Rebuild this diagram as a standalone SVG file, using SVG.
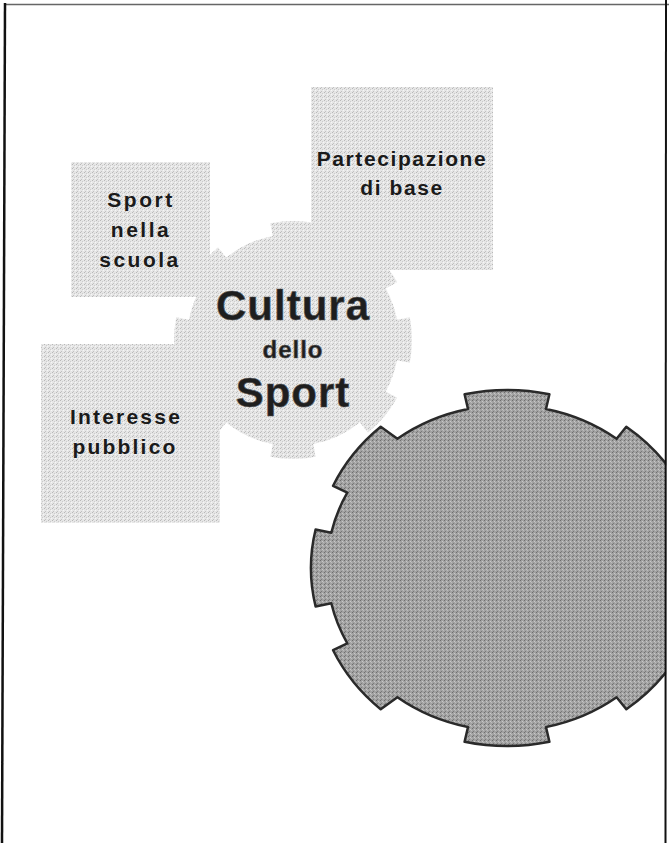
<svg xmlns="http://www.w3.org/2000/svg" width="669" height="843" viewBox="0 0 669 843">
<defs>
<pattern id="tex" width="4" height="4" patternUnits="userSpaceOnUse">
<rect width="4" height="4" fill="#e6e6e6"/>
<rect x="0" y="0" width="1" height="1" fill="#b8b8b8"/>
<rect x="2" y="1" width="1" height="1" fill="#cccccc"/>
<rect x="1" y="3" width="1" height="1" fill="#c2c2c2"/>
<rect x="3" y="2" width="1" height="1" fill="#f6f6f6"/>
</pattern>
<pattern id="texDark" width="4" height="4" patternUnits="userSpaceOnUse">
<rect width="4" height="4" fill="#a2a2a2"/>
<rect x="0" y="0" width="1" height="1" fill="#6e6e6e"/>
<rect x="2" y="1" width="1" height="1" fill="#c8c8c8"/>
<rect x="1" y="3" width="1" height="1" fill="#7a7a7a"/>
<rect x="3" y="2" width="1" height="1" fill="#bcbcbc"/>
</pattern>
<clipPath id="frameClip"><rect x="0" y="0" width="665" height="843"/></clipPath>
<style>
.box{fill:url(#tex);}
.lbl{font-family:"Liberation Sans",Arial,sans-serif;font-size:21px;font-weight:bold;fill:#1a1a1a;text-anchor:middle;}
.big{font-family:"Liberation Sans",Arial,sans-serif;font-weight:bold;fill:#1e1e1e;text-anchor:middle;stroke:#555;stroke-width:0.6;}
</style>
</defs>
<rect width="669" height="843" fill="#ffffff"/>

<g id="box-sport-scuola">
<rect class="box" x="71" y="162" width="139" height="135"/>
</g>
<g id="box-partecipazione">
<rect class="box" x="311" y="87" width="182" height="183"/>
</g>
<g id="box-interesse">
<rect class="box" x="41" y="344" width="179" height="179"/>
</g>

<g id="gear-cultura">
<path class="box" d="M397,360.2 L409.8,362.7 A119 119 0 0 0 409.8,317.3 L397,319.8 A106 106 0 0 0 385.7,288.6 L397.1,282.3 A119 119 0 0 0 367.9,247.5 L359.7,257.6 A106 106 0 0 0 313.2,235.9 L315.7,223.2 A119 119 0 0 0 270.3,223.2 L272.8,235.9 A106 106 0 0 0 226.3,257.6 L218.1,247.5 A119 119 0 0 0 188.9,282.3 L200.3,288.6 A106 106 0 0 0 189,319.8 L176.2,317.3 A119 119 0 0 0 176.2,362.7 L189,360.2 A106 106 0 0 0 200.3,391.4 L188.9,397.7 A119 119 0 0 0 218.1,432.5 L226.3,422.4 A106 106 0 0 0 272.8,444.1 L270.3,456.8 A119 119 0 0 0 315.7,456.8 L313.2,444.1 A106 106 0 0 0 359.7,422.4 L367.9,432.5 A119 119 0 0 0 397.1,397.7 L385.7,391.4 A106 106 0 0 0 397,360.2 Z"/>
</g>

<g id="labels-boxes">
<text class="lbl" x="141" y="207" letter-spacing="2.5">Sport</text>
<text class="lbl" x="141" y="237" letter-spacing="2.5">nella</text>
<text class="lbl" x="140" y="267" letter-spacing="2.5">scuola</text>
<text class="lbl" x="402" y="166" letter-spacing="1.6">Partecipazione</text>
<text class="lbl" x="402" y="195" letter-spacing="1.6">di base</text>
<text class="lbl" x="126" y="424" letter-spacing="2.2">Interesse</text>
<text class="lbl" x="125" y="454" letter-spacing="2.2">pubblico</text>
</g>

<g id="labels-center">
<text class="big" x="293" y="320" font-size="42" letter-spacing="1">Cultura</text>
<text class="big" x="293" y="358" font-size="24" letter-spacing="1" stroke-width="0.3">dello</text>
<text class="big" x="293" y="407" font-size="42" letter-spacing="1">Sport</text>
</g>

<g id="gear-dark" clip-path="url(#frameClip)">
<path fill="url(#texDark)" stroke="#2a2a2a" stroke-width="2.5" stroke-linejoin="round" d="M682.7,603.3 L698.4,606.5 A196 178 0 0 0 698.4,529.5 L682.7,532.7 A180 163 0 0 0 666.7,492.7 L680.9,485.8 A196 178 0 0 0 626.3,426.8 L616.6,438.7 A180 163 0 0 0 546,408.9 L549.4,394.2 A196 178 0 0 0 464.6,394.2 L468,408.9 A180 163 0 0 0 397.4,438.7 L380.7,426.8 A196 178 0 0 0 333.1,485.8 L347.3,492.7 A180 163 0 0 0 331.3,532.7 L315.6,529.5 A196 178 0 0 0 315.6,606.5 L331.3,603.3 A180 163 0 0 0 347.3,643.3 L333.1,650.2 A196 178 0 0 0 380.7,709.2 L397.4,697.3 A180 163 0 0 0 468,727.1 L464.6,741.8 A196 178 0 0 0 549.4,741.8 L546,727.1 A180 163 0 0 0 616.6,697.3 L626.3,709.2 A196 178 0 0 0 680.9,650.2 L666.7,643.3 A180 163 0 0 0 682.7,603.3 Z"/>
</g>

<g id="connectors"></g>

<g id="frame">
<line x1="5" y1="4.5" x2="669" y2="4.5" stroke="#666" stroke-width="1.5"/>
<line x1="5" y1="3" x2="2" y2="843" stroke="#111" stroke-width="2.5"/>
<line x1="666" y1="0" x2="665.5" y2="843" stroke="#111" stroke-width="2"/>
</g>
</svg>
